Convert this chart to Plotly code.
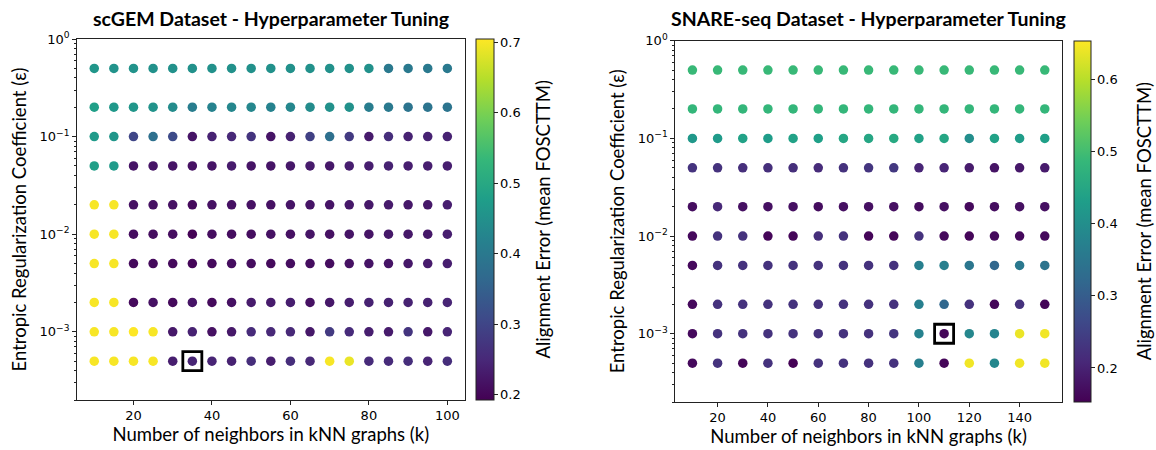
import plotly.graph_objects as go

# ---------------- data ----------------
eps_values = [0.5, 0.2, 0.1, 0.05, 0.02, 0.01, 0.005, 0.002, 0.001, 0.0005]

k_scgem = [10, 15, 20, 25, 30, 35, 40, 45, 50, 55, 60, 65, 70, 75, 80, 85, 90, 95, 100]
# rows follow eps_values (top to bottom), columns follow k_scgem
scgem_error = [
    [0.46, 0.455, 0.455, 0.45, 0.45, 0.45, 0.45, 0.45, 0.45, 0.45, 0.45, 0.45, 0.45, 0.45, 0.45, 0.40, 0.40, 0.40, 0.40],
    [0.48, 0.465, 0.46, 0.455, 0.44, 0.41, 0.42, 0.43, 0.43, 0.42, 0.43, 0.44, 0.45, 0.45, 0.41, 0.40, 0.39, 0.39, 0.39],
    [0.47, 0.46, 0.30, 0.38, 0.31, 0.22, 0.24, 0.25, 0.27, 0.22, 0.24, 0.29, 0.38, 0.28, 0.23, 0.26, 0.24, 0.24, 0.24],
    [0.48, 0.47, 0.22, 0.22, 0.22, 0.215, 0.22, 0.23, 0.22, 0.22, 0.225, 0.23, 0.225, 0.235, 0.235, 0.24, 0.235, 0.235, 0.235],
    [0.70, 0.70, 0.215, 0.215, 0.215, 0.205, 0.215, 0.215, 0.215, 0.215, 0.22, 0.22, 0.22, 0.225, 0.225, 0.23, 0.225, 0.225, 0.235],
    [0.70, 0.70, 0.21, 0.21, 0.21, 0.193, 0.21, 0.21, 0.21, 0.215, 0.215, 0.22, 0.215, 0.22, 0.22, 0.225, 0.225, 0.225, 0.235],
    [0.70, 0.70, 0.205, 0.205, 0.205, 0.198, 0.205, 0.21, 0.21, 0.205, 0.21, 0.21, 0.21, 0.215, 0.22, 0.22, 0.225, 0.23, 0.235],
    [0.70, 0.70, 0.205, 0.215, 0.205, 0.22, 0.205, 0.215, 0.23, 0.23, 0.235, 0.215, 0.225, 0.235, 0.24, 0.24, 0.24, 0.24, 0.245],
    [0.70, 0.70, 0.705, 0.70, 0.225, 0.24, 0.215, 0.225, 0.255, 0.25, 0.25, 0.225, 0.28, 0.255, 0.235, 0.23, 0.27, 0.225, 0.245],
    [0.70, 0.70, 0.70, 0.70, 0.235, 0.245, 0.245, 0.24, 0.26, 0.235, 0.26, 0.25, 0.70, 0.69, 0.255, 0.255, 0.26, 0.245, 0.26],
]
best_scgem = (35, 0.0005)

k_snare = [10, 20, 30, 40, 50, 60, 70, 80, 90, 100, 110, 120, 130, 140, 150]
snare_error = [
    [0.49, 0.49, 0.49, 0.49, 0.49, 0.49, 0.49, 0.49, 0.49, 0.49, 0.49, 0.49, 0.49, 0.49, 0.49],
    [0.485, 0.485, 0.485, 0.485, 0.485, 0.485, 0.485, 0.485, 0.485, 0.485, 0.485, 0.485, 0.485, 0.485, 0.485],
    [0.42, 0.425, 0.44, 0.43, 0.44, 0.435, 0.45, 0.45, 0.455, 0.44, 0.45, 0.40, 0.44, 0.43, 0.435],
    [0.228, 0.225, 0.22, 0.22, 0.22, 0.215, 0.225, 0.23, 0.235, 0.205, 0.205, 0.19, 0.18, 0.185, 0.19],
    [0.17, 0.21, 0.175, 0.175, 0.175, 0.17, 0.175, 0.175, 0.175, 0.17, 0.175, 0.165, 0.17, 0.175, 0.175],
    [0.165, 0.225, 0.225, 0.16, 0.16, 0.22, 0.225, 0.16, 0.16, 0.225, 0.165, 0.16, 0.165, 0.165, 0.165],
    [0.165, 0.225, 0.225, 0.225, 0.225, 0.225, 0.225, 0.225, 0.225, 0.37, 0.37, 0.35, 0.32, 0.355, 0.345],
    [0.165, 0.225, 0.225, 0.225, 0.225, 0.225, 0.225, 0.225, 0.225, 0.37, 0.32, 0.225, 0.16, 0.225, 0.16],
    [0.165, 0.225, 0.225, 0.225, 0.225, 0.225, 0.225, 0.225, 0.23, 0.375, 0.16, 0.385, 0.38, 0.64, 0.645],
    [0.165, 0.225, 0.16, 0.225, 0.155, 0.225, 0.225, 0.225, 0.225, 0.37, 0.16, 0.645, 0.385, 0.645, 0.645],
]
best_snare = (110, 0.001)

y_tickvals = [1, 0.1, 0.01, 0.001]
y_ticktext = ["10<sup>0</sup>", "10<sup>\u22121</sup>", "10<sup>\u22122</sup>", "10<sup>\u22123</sup>"]
titles = ["scGEM Dataset - Hyperparameter Tuning", "SNARE-seq Dataset - Hyperparameter Tuning"]
x_label = "Number of neighbors in kNN graphs (k)"
y_label = "Entropic Regularization Coefficient (\u03b5)"
cbar_label = "Alignment Error (mean FOSCTTM)"

# ---------------- layout geometry ----------------
W, H = 1156, 450
LABEL_FONT = "Lato"
TICK_FONT = "DejaVu Sans"
LABEL_SIZE = 18.5


def flatten(ks, errs):
    xs, ys, cs = [], [], []
    for i, e in enumerate(eps_values):
        for j, k in enumerate(ks):
            xs.append(k)
            ys.append(e)
            cs.append(errs[i][j])
    return xs, ys, cs


fig = go.Figure()

panels = [
    dict(ks=k_scgem, errs=scgem_error, best=best_scgem, xa="x", ya="y",
         xdom=[76.6 / W, 465.0 / W], ydom=[1 - 400 / H, 1 - 39 / H],
         xr=[5.5, 104.5], cmin=0.192, cmax=0.705,
         cbx=476 / W, cbthick=18, cbt=[0.2, 0.3, 0.4, 0.5, 0.6, 0.7],
         cbtitle_x=542 / W),
    dict(ks=k_snare, errs=snare_error, best=best_snare, xa="x2", ya="y2",
         xdom=[674.8 / W, 1062.4 / W], ydom=[1 - 402 / H, 1 - 40.7 / H],
         xr=[3, 157], cmin=0.153, cmax=0.654,
         cbx=1073.5 / W, cbthick=17, cbt=[0.2, 0.3, 0.4, 0.5, 0.6],
         cbtitle_x=1144 / W),
]

for idx, p in enumerate(panels):
    xs, ys, cs = flatten(p["ks"], p["errs"])
    ydom = p["ydom"]
    ymid = (ydom[0] + ydom[1]) / 2
    fig.add_trace(go.Scatter(
        x=xs, y=ys, mode="markers", xaxis=p["xa"], yaxis=p["ya"],
        marker=dict(
            size=9.5, color=cs, colorscale="Viridis", cmin=p["cmin"], cmax=p["cmax"],
            line=dict(width=0),
            colorbar=dict(
                x=p["cbx"], xanchor="left", xpad=0, ypad=0,
                y=ymid, yanchor="middle",
                len=ydom[1] - ydom[0], lenmode="fraction",
                thickness=p["cbthick"], outlinewidth=1, outlinecolor="#222",
                tickmode="array", tickvals=p["cbt"],
                ticks="outside", ticklen=3.5, tickwidth=1, tickcolor="#222",
                tickfont=dict(family=TICK_FONT, size=13, color="black"),
            ),
        ),
        showlegend=False, hoverinfo="skip",
    ))
    fig.add_trace(go.Scatter(
        x=[p["best"][0]], y=[p["best"][1]], mode="markers",
        xaxis=p["xa"], yaxis=p["ya"],
        marker=dict(symbol="square-open", size=19, color="black",
                    line=dict(width=2.8, color="black")),
        showlegend=False, hoverinfo="skip",
    ))

    axis_common = dict(showline=True, linecolor="#222", linewidth=1, mirror=True,
                       ticks="outside", ticklen=3.5, tickwidth=1, tickcolor="#222",
                       showgrid=False, zeroline=False, automargin=False,
                       tickfont=dict(family=TICK_FONT, size=13, color="black"))
    xname = "xaxis" if idx == 0 else "xaxis2"
    yname = "yaxis" if idx == 0 else "yaxis2"
    fig.layout[xname] = dict(
        domain=p["xdom"], anchor=p["ya"], range=p["xr"], dtick=20, tick0=0,
        title=dict(text=x_label, standoff=5,
                   font=dict(family=LABEL_FONT, size=LABEL_SIZE, color="black")),
        **axis_common)
    fig.layout[yname] = dict(
        domain=p["ydom"], anchor=p["xa"], type="log",
        range=[-3.699, 0], tickmode="array", tickvals=y_tickvals, ticktext=y_ticktext,
        minor=dict(ticks="outside", ticklen=2, tickwidth=0.8, tickcolor="#222",
                   dtick="D1", showgrid=False),
        title=dict(text=y_label, standoff=8,
                   font=dict(family=LABEL_FONT, size=LABEL_SIZE, color="black")),
        **axis_common)
    fig.add_annotation(
        text="<b>" + titles[idx] + "</b>", xref="paper", yref="paper",
        x=(p["xdom"][0] + p["xdom"][1]) / 2, y=1 - 18 / H,
        xanchor="center", yanchor="middle", showarrow=False,
        font=dict(family=LABEL_FONT, size=19.5, color="black"))
    fig.add_annotation(
        text=cbar_label, xref="paper", yref="paper",
        x=p["cbtitle_x"], y=ymid, textangle=-90,
        xanchor="center", yanchor="middle", showarrow=False,
        font=dict(family=LABEL_FONT, size=LABEL_SIZE, color="black"))

fig.update_layout(width=W, height=H, margin=dict(l=0, r=0, t=0, b=0),
                  paper_bgcolor="white", plot_bgcolor="white")

fig.write_html("out.html")
